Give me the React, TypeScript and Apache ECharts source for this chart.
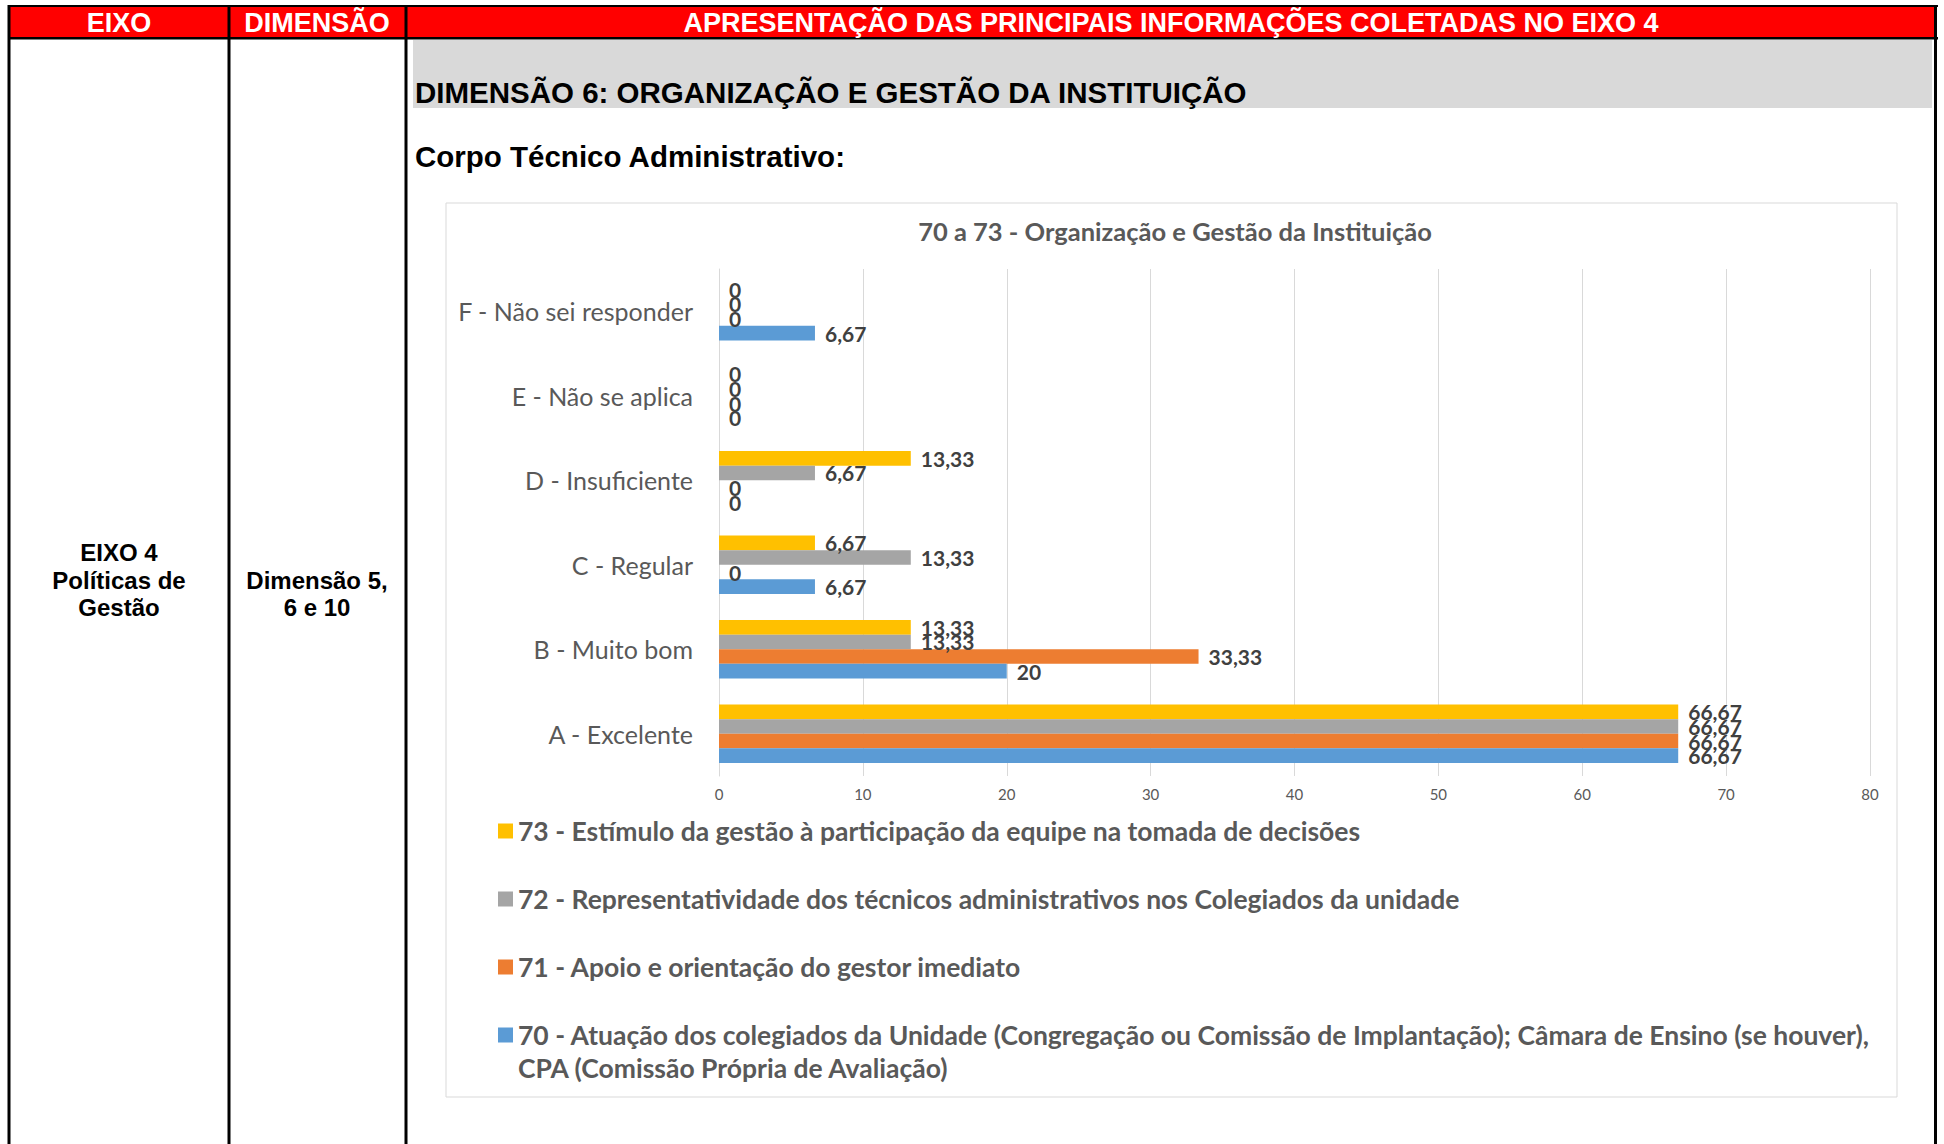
import React, { useEffect, useRef } from 'react';
import * as echarts from 'echarts';

// ---- data ----
const categories = [
  'A - Excelente',
  'B - Muito bom',
  'C - Regular',
  'D - Insuficiente',
  'E - Não se aplica',
  'F - Não sei responder',
];
const seriesNames = [
  '73 - Estímulo da gestão à participação da equipe na tomada de decisões',
  '72 - Representatividade dos técnicos administrativos nos Colegiados da unidade',
  '71 - Apoio e orientação do gestor imediato',
  '70 - Atuação dos colegiados da Unidade (Congregação ou Comissão de Implantação); Câmara de Ensino (se houver), CPA (Comissão Própria de Avaliação)',
];
const values73 = [66.67, 13.33, 6.67, 13.33, 0, 0];
const values72 = [66.67, 13.33, 13.33, 6.67, 0, 0];
const values71 = [66.67, 33.33, 0, 0, 0, 0];
const values70 = [66.67, 20, 6.67, 0, 0, 6.67];
const seriesValues = [values73, values72, values71, values70];
const seriesColors = ['#FFC000', '#A5A5A5', '#ED7D31', '#5B9BD5'];
const xMin = 0;
const xMax = 80;
const xInterval = 10;

const chartTitle = '70 a 73 - Organização e Gestão da Instituição';
const headerTexts = ['EIXO', 'DIMENSÃO', 'APRESENTAÇÃO DAS PRINCIPAIS INFORMAÇÕES COLETADAS NO EIXO 4'];
const sectionTitle = 'DIMENSÃO 6: ORGANIZAÇÃO E GESTÃO DA INSTITUIÇÃO';
const subTitle = 'Corpo Técnico Administrativo:';
const eixoLines = ['EIXO 4', 'Políticas de', 'Gestão'];
const dimLines = ['Dimensão 5,', '6 e 10'];

const ARIAL = '"Liberation Sans", Arial, sans-serif';
const CAL = 'Lato, "Open Sans", sans-serif';

function fmt(v: number) {
  return String(v).replace('.', ',');
}

export default function App() {
  const ref = useRef<HTMLDivElement>(null);
  useEffect(() => {
    if (!ref.current) return;
    const chart = echarts.init(ref.current, undefined, { renderer: 'svg' });

    const rect = (x: number, y: number, w: number, h: number, fill: string, z = 0, stroke?: string) => ({
      type: 'rect',
      silent: true,
      z,
      shape: { x, y, width: w, height: h },
      style: stroke ? { fill, stroke, lineWidth: 1 } : { fill },
    });
    const txt = (text: string, x: number, y: number, size: number, color: string, align = 'center', family = ARIAL) => ({
      type: 'text',
      silent: true,
      z: 5,
      style: {
        text,
        x,
        y,
        fill: color,
        fontSize: size,
        fontWeight: 'bold',
        fontFamily: family,
        align,
        verticalAlign: 'middle',
      },
    });

    const graphic: any[] = [
      // chart box
      rect(446, 203, 1451, 894, '#FFFFFF', -10, '#D9D9D9'),
      // header
      rect(10, 7, 1925, 30, '#FF0000'),
      rect(8, 5, 1930, 2, '#000000', 1),
      rect(8, 37, 1930, 2.6, '#000000', 1),
      rect(7.5, 5, 3, 1139, '#000000', 1),
      rect(227.5, 5, 3, 1139, '#000000', 1),
      rect(404.5, 5, 3, 1139, '#000000', 1),
      rect(1934, 5, 3, 1139, '#000000', 1),
      txt(headerTexts[0], 119, 23, 27, '#FFFFFF'),
      txt(headerTexts[1], 317, 23, 27, '#FFFFFF'),
      txt(headerTexts[2], 1171, 23, 27, '#FFFFFF'),
      // gray band
      rect(413, 40, 1519, 68, '#D9D9D9'),
      txt(sectionTitle, 415, 92, 29.5, '#000000', 'left'),
      txt(subTitle, 415, 156, 29.5, '#000000', 'left'),
      // left cells
      txt(eixoLines[0], 119, 552, 24, '#000000'),
      txt(eixoLines[1], 119, 580, 24, '#000000'),
      txt(eixoLines[2], 119, 607, 24, '#000000'),
      txt(dimLines[0], 317, 580, 24, '#000000'),
      txt(dimLines[1], 317, 607, 24, '#000000'),
    ];

    const legendText = {
      fontFamily: CAL,
      fontWeight: 'bold',
      fontSize: 26.5,
      color: '#595959',
      lineHeight: 33,
    };

    const option: any = {
      animation: false,
      textStyle: { fontFamily: CAL },
      title: {
        text: chartTitle,
        left: 1175,
        top: 217,
        textAlign: 'center',
        padding: 0,
        textStyle: { fontFamily: CAL, fontSize: 25.5, fontWeight: 'bold', color: '#595959', lineHeight: 28 },
      },
      grid: { left: 719, top: 269, width: 1151, height: 507, outerBoundsMode: 'none', containLabel: false },
      xAxis: {
        type: 'value',
        min: xMin,
        max: xMax,
        interval: xInterval,
        axisLine: { show: false },
        axisTick: { show: false },
        splitLine: { show: true, lineStyle: { color: '#D9D9D9', width: 1 } },
        axisLabel: { fontSize: 15, color: '#595959', margin: 10, fontFamily: CAL },
      },
      yAxis: {
        type: 'category',
        data: categories,
        axisLine: { show: true, lineStyle: { color: '#D9D9D9', width: 1 } },
        axisTick: { show: false },
        axisLabel: { fontSize: 25, color: '#595959', margin: 26, fontFamily: CAL },
      },
      legend: [
        {
          data: seriesNames.slice(0, 3),
          orient: 'vertical',
          left: 498,
          top: 814.5,
          padding: 0,
          itemGap: 35,
          itemWidth: 15,
          itemHeight: 15,
          icon: 'rect',
          selectedMode: false,
          textStyle: legendText,
        },
        {
          data: [seriesNames[3]],
          orient: 'vertical',
          left: 498,
          top: 985.5,
          padding: 0,
          itemWidth: 15,
          itemHeight: 15,
          icon: 'rect',
          selectedMode: false,
          // leading empty line keeps the icon level with the first text line
          formatter: (name: string) => '\n' + name.replace('(se houver), ', '(se houver),\n'),
          textStyle: legendText,
        },
      ],
      series: seriesNames.map((name, i) => ({
        type: 'bar',
        name,
        data: seriesValues[i],
        barGap: '0%',
        barCategoryGap: '31%',
        itemStyle: { color: seriesColors[i] },
        label: {
          show: true,
          position: 'right',
          distance: 10,
          fontFamily: CAL,
          fontSize: 21,
          fontWeight: 'bold',
          color: '#404040',
          formatter: (p: any) => fmt(p.value),
        },
      })),
      graphic,
    };

    chart.setOption(option);
    return () => chart.dispose();
  }, []);

  return (
    <div
      ref={ref}
      style={{ position: 'fixed', left: 0, top: 0, width: 1944, height: 1144, background: '#FFFFFF' }}
    />
  );
}
